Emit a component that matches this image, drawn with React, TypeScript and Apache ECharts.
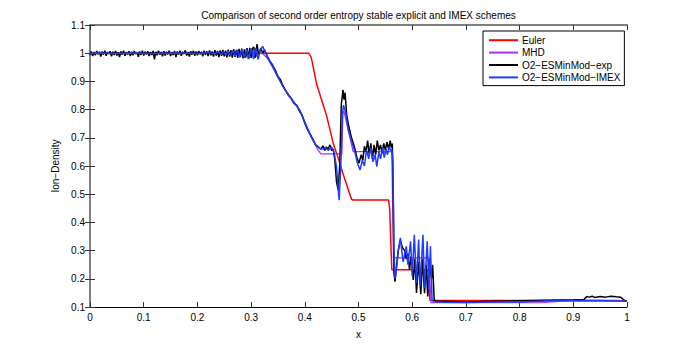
import React, { useEffect, useRef } from "react";
import * as echarts from "echarts";

const titleText = "Comparison of second order entropy stable explicit and IMEX schemes";
const xTicks = [0, 0.1, 0.2, 0.3, 0.4, 0.5, 0.6, 0.7, 0.8, 0.9, 1];
const yTicks = [0.1, 0.2, 0.3, 0.4, 0.5, 0.6, 0.7, 0.8, 0.9, 1, 1.1];
const seriesNames = ["Euler", "MHD", "O2\u2212ESMinMod\u2212exp", "O2\u2212ESMinMod\u2212IMEX"];

const eulerData: [number, number][] = [
  [0, 1.0], [0.407, 1.0], [0.412, 0.985], [0.422, 0.891], [0.441, 0.775], [0.453, 0.68],
  [0.461, 0.635], [0.475, 0.55], [0.487, 0.482], [0.49, 0.479], [0.556, 0.479], [0.558, 0.45],
  [0.562, 0.232], [0.629, 0.232], [0.633, 0.123], [0.98, 0.123], [1.0, 0.12],
];

const mhdData: [number, number][] = [
  [0, 1.0], [0.31, 1.0], [0.322, 0.998], [0.332, 0.978], [0.36, 0.88], [0.39, 0.8],
  [0.413, 0.7], [0.425, 0.655], [0.43, 0.643], [0.469, 0.643], [0.471, 0.79], [0.473, 0.793],
  [0.49, 0.651], [0.562, 0.651], [0.565, 0.274], [0.631, 0.274], [0.635, 0.115],
  [0.84, 0.115], [0.88, 0.121], [1.0, 0.121],
];

const expData: [number, number][] = [
  [0.0, 0.994], [0.0025, 1.006], [0.005, 0.99], [0.0075, 1.004], [0.01, 0.993], [0.0125, 1.008],
  [0.015, 0.996], [0.0175, 1.005], [0.02, 0.988], [0.0225, 1.006], [0.025, 0.995], [0.0275, 1.009],
  [0.03, 0.991], [0.0325, 1.004], [0.035, 0.997], [0.0375, 1.007], [0.04, 0.989], [0.0425, 1.005],
  [0.045, 0.994], [0.0475, 1.008], [0.05, 0.992], [0.0525, 1.003], [0.055, 0.986], [0.0575, 1.006],
  [0.06, 0.995], [0.0625, 1.009], [0.065, 0.991], [0.0675, 1.004], [0.07, 0.996], [0.0725, 1.007],
  [0.075, 0.99], [0.0775, 1.005], [0.08, 0.993], [0.0825, 1.008], [0.085, 0.997], [0.0875, 1.003],
  [0.09, 0.987], [0.0925, 1.006], [0.095, 0.994], [0.0975, 1.009], [0.1, 0.992], [0.1025, 1.005],
  [0.105, 0.996], [0.1075, 1.007], [0.11, 0.99], [0.1125, 1.004], [0.115, 0.994], [0.1175, 1.008],
  [0.12, 0.978], [0.1225, 1.005], [0.125, 0.993], [0.1275, 1.009], [0.13, 0.995], [0.1325, 1.004],
  [0.135, 0.989], [0.1375, 1.007], [0.14, 0.992], [0.1425, 1.005], [0.145, 0.996], [0.1475, 1.009],
  [0.15, 0.99], [0.1525, 1.004], [0.155, 0.994], [0.1575, 1.008], [0.16, 0.986], [0.1625, 1.006],
  [0.165, 0.995], [0.1675, 1.009], [0.17, 0.991], [0.1725, 1.005], [0.175, 0.997], [0.1775, 1.01],
  [0.18, 0.992], [0.1825, 1.004], [0.185, 0.988], [0.1875, 1.007], [0.19, 0.995], [0.1925, 1.009],
  [0.195, 0.991], [0.1975, 1.006], [0.2, 0.993], [0.2025, 1.008], [0.205, 0.996], [0.2075, 1.005],
  [0.21, 0.989], [0.2125, 1.009], [0.215, 0.994], [0.2175, 1.007], [0.22, 0.99], [0.2225, 1.01],
  [0.225, 0.993], [0.2275, 1.006], [0.23, 0.988], [0.2325, 1.011], [0.235, 0.992], [0.2375, 1.008],
  [0.24, 0.986], [0.2425, 1.01], [0.245, 0.991], [0.2475, 1.012], [0.25, 0.989], [0.2525, 1.009],
  [0.255, 0.985], [0.2575, 1.013], [0.26, 0.988], [0.2625, 1.011], [0.265, 0.984], [0.2675, 1.014],
  [0.27, 0.987], [0.2725, 1.012], [0.275, 0.983], [0.2775, 1.015], [0.28, 0.986], [0.2825, 1.016],
  [0.285, 0.982], [0.2875, 1.014], [0.29, 0.984], [0.2925, 1.018], [0.295, 0.98], [0.2975, 1.019],
  [0.3, 0.983], [0.3025, 1.017], [0.305, 1.022], [0.307, 0.985], [0.309, 0.99], [0.311, 1.032],
  [0.314, 0.995], [0.318, 1.018], [0.322, 1.0], [0.325, 1.012], [0.33, 0.99], [0.335, 0.972],
  [0.34, 0.958], [0.345, 0.94], [0.35, 0.918], [0.355, 0.905], [0.358, 0.89], [0.362, 0.875],
  [0.366, 0.862], [0.37, 0.85], [0.375, 0.838], [0.38, 0.822], [0.385, 0.815], [0.39, 0.795],
  [0.395, 0.78], [0.4, 0.752], [0.405, 0.73], [0.41, 0.712], [0.415, 0.695], [0.42, 0.676],
  [0.425, 0.668], [0.43, 0.66], [0.434, 0.672], [0.437, 0.655], [0.44, 0.668], [0.443, 0.66],
  [0.447, 0.675], [0.45, 0.655], [0.453, 0.66], [0.456, 0.62], [0.459, 0.545], [0.462, 0.515],
  [0.465, 0.6], [0.468, 0.82], [0.47, 0.85], [0.471, 0.87], [0.473, 0.835], [0.475, 0.86],
  [0.478, 0.78], [0.482, 0.74], [0.487, 0.7], [0.492, 0.67], [0.497, 0.63], [0.501, 0.61],
  [0.505, 0.64], [0.508, 0.62], [0.511, 0.67], [0.514, 0.65], [0.517, 0.69], [0.52, 0.64],
  [0.523, 0.68], [0.526, 0.625], [0.529, 0.675], [0.532, 0.64], [0.535, 0.69], [0.538, 0.655],
  [0.541, 0.675], [0.544, 0.645], [0.547, 0.68], [0.55, 0.655], [0.553, 0.685], [0.556, 0.66],
  [0.559, 0.69], [0.561, 0.665], [0.563, 0.68], [0.565, 0.45], [0.566, 0.22], [0.568, 0.19],
  [0.571, 0.25], [0.574, 0.3], [0.578, 0.335], [0.582, 0.31], [0.586, 0.3], [0.589, 0.27],
  [0.592, 0.29], [0.595, 0.232], [0.598, 0.28], [0.602, 0.196], [0.605, 0.27], [0.608, 0.15],
  [0.612, 0.26], [0.616, 0.145], [0.619, 0.27], [0.623, 0.149], [0.626, 0.25], [0.629, 0.137],
  [0.632, 0.27], [0.636, 0.2], [0.638, 0.25], [0.641, 0.125], [0.645, 0.12], [0.66, 0.12],
  [0.7, 0.118], [0.75, 0.12], [0.8, 0.122], [0.85, 0.124], [0.9, 0.126], [0.92, 0.127],
  [0.925, 0.137], [0.93, 0.135], [0.935, 0.138], [0.94, 0.134], [0.95, 0.137], [0.96, 0.135],
  [0.97, 0.138], [0.98, 0.136], [0.988, 0.135], [0.995, 0.124], [1.0, 0.12],
];

const imexData: [number, number][] = [
  [0.0, 1.0], [0.02, 1.001], [0.05, 0.999], [0.08, 1.001], [0.11, 0.999], [0.14, 1.0],
  [0.17, 1.001], [0.2, 0.999], [0.22, 1.002], [0.232, 0.998], [0.236, 1.002], [0.24, 1.003],
  [0.2443, 0.996], [0.2486, 1.005], [0.2529, 0.994], [0.2572, 1.007], [0.2615, 0.992],
  [0.2658, 1.009], [0.2701, 0.989], [0.2744, 1.011], [0.2787, 0.986], [0.283, 1.013],
  [0.2873, 0.984], [0.2916, 1.015], [0.2959, 0.981], [0.3002, 1.017], [0.3045, 0.979],
  [0.3088, 1.019], [0.3131, 0.978], [0.3174, 1.012], [0.3215, 1.024], [0.326, 1.005],
  [0.332, 0.98], [0.34, 0.955], [0.35, 0.915], [0.36, 0.88], [0.37, 0.85], [0.38, 0.825],
  [0.39, 0.8], [0.4, 0.755], [0.41, 0.71], [0.42, 0.675], [0.428, 0.662], [0.434, 0.66],
  [0.438, 0.665], [0.444, 0.655], [0.45, 0.667], [0.455, 0.645], [0.459, 0.597],
  [0.464, 0.479], [0.467, 0.6], [0.47, 0.78], [0.472, 0.816], [0.476, 0.79], [0.481, 0.728],
  [0.487, 0.69], [0.493, 0.651], [0.498, 0.61], [0.503, 0.586], [0.507, 0.62], [0.511, 0.6],
  [0.515, 0.657], [0.519, 0.625], [0.523, 0.665], [0.527, 0.615], [0.531, 0.64],
  [0.534, 0.598], [0.538, 0.65], [0.541, 0.625], [0.545, 0.665], [0.548, 0.63], [0.551, 0.66],
  [0.554, 0.64], [0.557, 0.668], [0.56, 0.655], [0.562, 0.66], [0.564, 0.62], [0.566, 0.3],
  [0.568, 0.2], [0.571, 0.24], [0.574, 0.3], [0.578, 0.345], [0.583, 0.26], [0.589, 0.315],
  [0.592, 0.25], [0.597, 0.333], [0.6, 0.209], [0.604, 0.356], [0.608, 0.185], [0.612, 0.339],
  [0.615, 0.174], [0.62, 0.356], [0.623, 0.167], [0.628, 0.333], [0.631, 0.161],
  [0.634, 0.315], [0.637, 0.125], [0.64, 0.119], [0.66, 0.117], [0.7, 0.116], [0.75, 0.118],
  [0.8, 0.118], [0.85, 0.121], [0.9, 0.123], [0.95, 0.123], [1.0, 0.12],
];

const seriesData = [eulerData, mhdData, expData, imexData];
const seriesColors = ["#ff0000", "#a830e8", "#000000", "#1e3cff"];
const seriesWidths = [1.5, 1.2, 1.5, 1.5];

export default function App() {
  const ref = useRef<HTMLDivElement>(null);
  useEffect(() => {
    if (!ref.current) return;
    const chart = echarts.init(ref.current, null, { renderer: "svg" });
    const font = "'Liberation Sans', Arial, Helvetica, sans-serif";
    const tickStyle = { inside: true, length: 5, lineStyle: { color: "#333", width: 1 } };
    const baseX = {
      type: "value",
      min: xTicks[0],
      max: xTicks[xTicks.length - 1],
      interval: 0.1,
      splitLine: { show: false },
      axisTick: tickStyle,
    };
    const baseY = {
      type: "value",
      min: yTicks[0],
      max: yTicks[yTicks.length - 1],
      interval: 0.1,
      splitLine: { show: false },
      axisTick: tickStyle,
    };
    chart.setOption({
      animation: false,
      backgroundColor: "#ffffff",
      textStyle: { fontFamily: font },
      grid: { left: 90, right: 65, top: 25, bottom: 39, containLabel: false, outerBoundsMode: "none" },
      graphic: [
        {
          type: "text",
          x: 358.5,
          y: 15,
          style: {
            text: titleText,
            fontSize: 10,
            fontFamily: font,
            fill: "#000",
            textAlign: "center",
            textVerticalAlign: "middle",
          },
        },
      ],
      legend: {
        orient: "vertical",
        left: 483,
        top: 31,
        data: seriesNames.map((n) => ({ name: n, icon: "rect" })),
        itemWidth: 29,
        itemHeight: 2,
        itemGap: 0,
        padding: [3, 4, 2, 6],
        backgroundColor: "#ffffff",
        borderColor: "#000",
        borderWidth: 1,
        borderRadius: 0,
        textStyle: { fontSize: 10, color: "#000", fontFamily: font, lineHeight: 12.4, padding: [0, 0, 0, -1] },
      },
      xAxis: [
        {
          ...baseX,
          position: "bottom",
          axisLine: { lineStyle: { color: "#000", width: 1 } },
          axisLabel: { fontSize: 10, color: "#000", margin: 5, fontFamily: font },
          name: "x",
          nameLocation: "middle",
          nameGap: 22,
          nameTextStyle: { fontSize: 10, color: "#000", fontFamily: font },
        },
        {
          ...baseX,
          position: "top",
          axisLine: { lineStyle: { color: "#7f7f7f", width: 2 } },
          axisLabel: { show: false },
        },
      ],
      yAxis: [
        {
          ...baseY,
          position: "left",
          axisLine: { lineStyle: { color: "#7f7f7f", width: 2 } },
          axisLabel: { fontSize: 10, color: "#000", margin: 5, fontFamily: font },
          name: "Ion\u2212Density",
          nameLocation: "middle",
          nameGap: 25,
          nameRotate: 90,
          nameTextStyle: { fontSize: 10, color: "#000", fontFamily: font },
        },
        {
          ...baseY,
          position: "right",
          axisLine: { lineStyle: { color: "#7f7f7f", width: 2 } },
          axisLabel: { show: false },
        },
      ],
      series: seriesNames.map((name, i) => ({
        name,
        type: "line",
        xAxisIndex: 0,
        yAxisIndex: 0,
        data: seriesData[i],
        showSymbol: false,
        symbol: "none",
        lineStyle: { color: seriesColors[i], width: seriesWidths[i] },
        itemStyle: { color: seriesColors[i] },
        z: 2 + i,
      })),
    });
    return () => chart.dispose();
  }, []);
  return (
    <div
      ref={ref}
      style={{ position: "fixed", left: 0, top: 0, width: 692, height: 346, background: "#fff" }}
    />
  );
}
